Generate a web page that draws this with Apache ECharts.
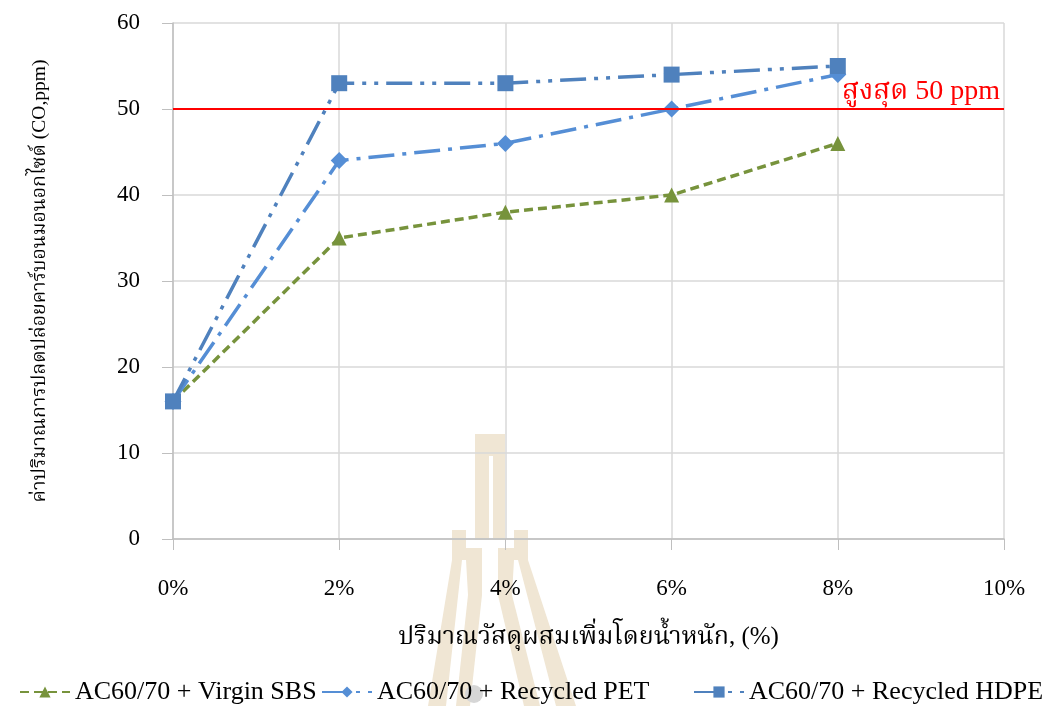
<!DOCTYPE html>
<html>
<head>
<meta charset="utf-8">
<script src="https://cdn.jsdelivr.net/npm/echarts@6/dist/echarts.min.js"></script>
<style>
  html, body { margin: 0; padding: 0; background: #fff; }
  #chart { width: 1059px; height: 706px; }
</style>
</head>
<body>
<div id="chart"></div>
<script>
// Additive content by weight (%)
const additivePct = [0, 2, 4, 6, 8];
// CO emissions (ppm) for each binder
const virginSBS = [16, 35, 38, 40, 46];
const recycledPET = [16, 44, 46, 50, 54];
const recycledHDPE = [16, 53, 53, 54, 55];
const seriesNames = ['AC60/70 + Virgin SBS', 'AC60/70 + Recycled PET', 'AC60/70 + Recycled HDPE'];
const limitValue = 50;
const limitLabel = 'สูงสุด 50 ppm';
const xTickMax = 10;
const yTickMax = 60;
const xTitle = 'ปริมาณวัสดุผสมเพิ่มโดยน้ำหนัก, (%)';
const yTitle = 'ค่าปริมาณการปลดปล่อยคาร์บอนมอนอกไซด์ (CO,ppm)';

const FONT = '"Liberation Serif", "Noto Serif Thai", "Noto Sans Thai", serif';
const pairs = ys => additivePct.map((x, i) => [x, ys[i]]);

const chart = echarts.init(document.getElementById('chart'), null, { renderer: 'canvas' });

// faint emblem drawn behind the plot
const wm = '#F0E6D4';
const poly = pts => ({ type: 'polygon', z: -10, shape: { points: pts }, style: { fill: wm } });

// one legend entry per slot along the bottom
const legendSlots = [14, 316, 688];
const legends = seriesNames.map((name, i) => ({
  top: 674,
  left: legendSlots[i],
  itemWidth: 50,
  itemHeight: 14,
  textStyle: { fontFamily: FONT, fontSize: 26, color: '#000' },
  data: [name]
}));

chart.setOption({
  animation: false,
  backgroundColor: '#ffffff',
  textStyle: { fontFamily: FONT },
  graphic: [
    poly([[475, 434], [505, 434], [505, 540], [493, 540], [493, 456], [489, 456], [489, 540], [475, 540]]),
    poly([[452, 530], [466, 530], [466, 548], [482, 548], [482, 595], [468, 595], [466, 560], [462, 560], [446, 706], [428, 706], [452, 560]]),
    poly([[528, 530], [514, 530], [514, 548], [498, 548], [498, 595], [512, 595], [514, 560], [518, 560], [556, 706], [576, 706], [528, 560]]),
    poly([[468, 595], [482, 595], [470, 706], [456, 706]]),
    poly([[498, 595], [512, 595], [540, 706], [524, 706]]),
    { type: 'circle', z: -10, shape: { cx: 474, cy: 694, r: 9 }, style: { fill: '#D6D6D6' } }
  ],
  grid: { left: 173, right: 55, top: 23, bottom: 167, containLabel: false },
  legend: legends,
  xAxis: {
    type: 'value',
    min: 0,
    max: xTickMax,
    interval: 2,
    name: xTitle,
    nameLocation: 'middle',
    nameGap: 86,
    nameTextStyle: { fontFamily: FONT, fontSize: 25, color: '#000' },
    axisLine: { show: true, lineStyle: { color: '#BFBFBF', width: 1.5 } },
    axisTick: { show: true, inside: false, length: 11, lineStyle: { color: '#BFBFBF' } },
    axisLabel: { formatter: '{value}%', fontFamily: FONT, fontSize: 23, color: '#000', margin: 38 },
    splitLine: { show: true, lineStyle: { color: '#D9D9D9', width: 1.5 } }
  },
  yAxis: {
    type: 'value',
    min: 0,
    max: yTickMax,
    interval: 10,
    name: yTitle,
    nameLocation: 'middle',
    nameRotate: 90,
    nameGap: 123,
    nameTextStyle: { fontFamily: FONT, fontSize: 19.5, color: '#000' },
    axisLine: { show: true, lineStyle: { color: '#BFBFBF', width: 1.5 } },
    axisTick: { show: true, inside: false, length: 11, lineStyle: { color: '#BFBFBF' } },
    axisLabel: { fontFamily: FONT, fontSize: 23, color: '#000', margin: 33 },
    splitLine: { show: true, lineStyle: { color: '#D9D9D9', width: 1.5 } }
  },
  series: [
    {
      name: seriesNames[0],
      type: 'line',
      data: pairs(virginSBS),
      symbol: 'triangle',
      symbolSize: 15,
      itemStyle: { color: '#77933C' },
      lineStyle: { color: '#77933C', width: 3.5, type: [9, 5] },
      z: 3,
      markLine: {
        silent: true,
        symbol: 'none',
        lineStyle: { color: '#FF0000', width: 2, type: 'solid' },
        label: {
          show: true,
          position: 'insideEndTop',
          formatter: limitLabel,
          fontFamily: FONT,
          fontSize: 28,
          color: '#FF0000',
          distance: [4, 3]
        },
        data: [{ yAxis: limitValue }]
      }
    },
    {
      name: seriesNames[1],
      type: 'line',
      data: pairs(recycledPET),
      symbol: 'diamond',
      symbolSize: 17,
      itemStyle: { color: '#558ED5' },
      lineStyle: { color: '#558ED5', width: 3.5, type: [26, 8, 4, 8] },
      z: 4
    },
    {
      name: seriesNames[2],
      type: 'line',
      data: pairs(recycledHDPE),
      symbol: 'rect',
      symbolSize: 16,
      itemStyle: { color: '#4F81BD' },
      lineStyle: { color: '#4F81BD', width: 3.5, type: [26, 8, 4, 8, 4, 8] },
      z: 5
    }
  ]
});
</script>
</body>
</html>
